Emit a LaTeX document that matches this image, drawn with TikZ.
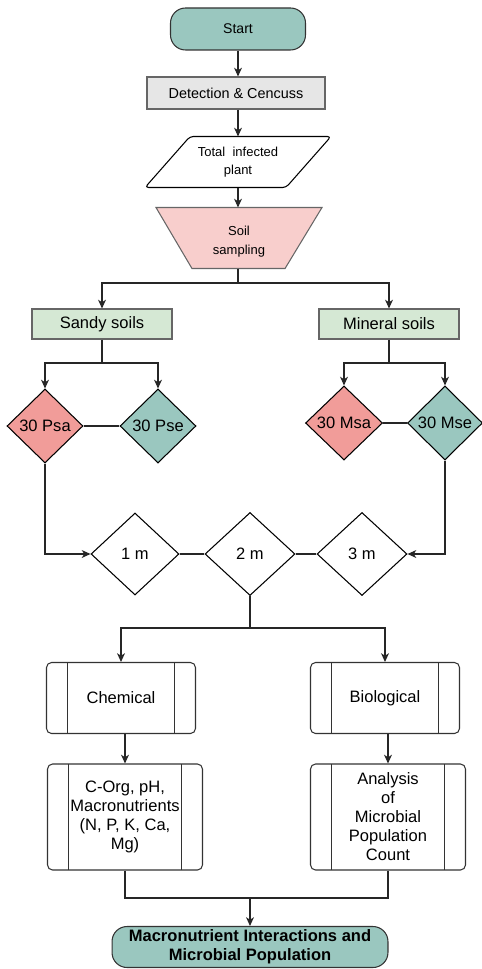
\documentclass[tikz,border=0pt]{standalone}
\usepackage{fontspec}
\setmainfont{Liberation Sans}
\usepackage{tikz}
\usetikzlibrary{shapes.geometric,arrows.meta}

\definecolor{teal1}{HTML}{9AC7BF}
\definecolor{red1}{HTML}{F19C99}
\definecolor{pink1}{HTML}{F8CECC}
\definecolor{green1}{HTML}{D5E8D4}
\definecolor{gray1}{HTML}{E6E6E6}
\definecolor{edge1}{HTML}{666666}

\tikzset{
	base/.style={line width=0.6pt, align=center, inner sep=1pt, font=\fontsize{9.4}{10.8}\selectfont},
	termbox/.style={base, draw=black!80, fill=teal1, rounded corners=0.3cm},
	plainbox/.style={base, draw=edge1, minimum width=2.8cm, minimum height=0.6cm},
	choice/.style={base, diamond, draw=black, inner sep=0pt},
	procbox/.style={base, draw=black!80, rounded corners=0.1cm,
		path picture={
			\draw[line width=0.6pt] ([xshift=0.42cm]path picture bounding box.north west) -- ([xshift=0.42cm]path picture bounding box.south west);
			\draw[line width=0.6pt] ([xshift=-0.42cm]path picture bounding box.north east) -- ([xshift=-0.42cm]path picture bounding box.south east);
		}},
	link/.style={line width=0.6pt, draw=black!85},
	>={Stealth[length=5pt,width=4.5pt,inset=1.5pt]}
}

\begin{document}
\begin{tikzpicture}[x=0.02cm,y=-0.02cm]
	\useasboundingbox (0,0) rectangle (482,969);

	\node[termbox, minimum width=2.7cm, minimum height=0.84cm, font=\fontsize{8}{10}\selectfont] (start) at (238,29) {Start};
	\node[plainbox, fill=gray1, minimum width=3.56cm, minimum height=0.64cm, font=\fontsize{8.2}{10}\selectfont] (detect) at (236,93) {Detection \& Cencuss};

	\node[base, minimum width=3.7cm, minimum height=1cm, font=\fontsize{7.4}{10}\selectfont] (total) at (238,162) {};
	\draw[line width=0.6pt, rounded corners=2pt] ([xshift=0.9cm]total.north west) -- (total.north east) -- ([xshift=-0.9cm]total.south east) -- (total.south west) -- cycle;
	\node[base, font=\fontsize{7.4}{10}\selectfont] at (total) {Total\ \ infected\\plant};

	\node[base, minimum width=3.3cm, minimum height=1.2cm] (soil) at (239,238) {};
	\draw[line width=0.6pt, draw=edge1, fill=pink1] (soil.north west) -- (soil.north east) -- ([xshift=-0.74cm]soil.south east) -- ([xshift=0.72cm]soil.south west) -- cycle;
	\node[base, font=\fontsize{7.4}{11}\selectfont] at ([yshift=-2pt]soil) {Soil\\sampling};

	\node[plainbox, fill=green1] (sandy) at (102,324) {Sandy soils};
	\node[plainbox, fill=green1] (mineral) at (389,324) {Mineral soils};

	\node[choice, fill=red1, minimum width=1.52cm, minimum height=1.48cm] (psa) at (45,426) {30 Psa};
	\node[choice, fill=teal1, minimum width=1.52cm, minimum height=1.48cm] (pse) at (158,426) {30 Pse};
	\node[choice, fill=red1, minimum width=1.54cm, minimum height=1.48cm] (msa) at (344,423) {30 Msa};
	\node[choice, fill=teal1, minimum width=1.5cm, minimum height=1.48cm] (mse) at (445,423) {30 Mse};

	\node[choice, fill=white, minimum width=1.76cm, minimum height=1.64cm] (m1) at (135,554) {1 m};
	\node[choice, fill=white, minimum width=1.8cm, minimum height=1.66cm] (m2) at (250,554) {2 m};
	\node[choice, fill=white, minimum width=1.8cm, minimum height=1.66cm] (m3) at (362,554) {3 m};

	\node[procbox, minimum width=2.98cm, minimum height=1.42cm] (chem) at (121,698) {\raisebox{-5pt}{Chemical}};
	\node[procbox, minimum width=2.98cm, minimum height=1.42cm] (bio) at (385,698) {Biological};
	\node[procbox, minimum width=3.1cm, minimum height=2.12cm] (chemres) at (125,817) {C-Org, pH,\\Macronutrients\\(N, P, K, Ca,\\Mg)};
	\node[procbox, minimum width=3.1cm, minimum height=2.12cm] (biores) at (388,817) {Analysis\\of\\Microbial\\Population\\Count};

	\node[termbox, minimum width=5.52cm, minimum height=0.82cm, font=\bfseries\fontsize{9.4}{10.6}\selectfont] (result) at (250,947) {Macronutrient Interactions and\\Microbial Population};

	\coordinate (j1) at (238,283);
	\coordinate (j2) at (102,363);
	\coordinate (j3) at (389,363);
	\coordinate (j4) at (250,628);
	\coordinate (j5) at (250,898);

	\draw[link,->] (start) -- (detect.north -| start);
	\draw[link,->] (detect.south -| start) -- (total);
	\draw[link,->] (total) -- (soil.north -| total);
	\draw[link] (soil.south -| j1) -- (j1);
	\draw[link,->] (j1) -| (sandy);
	\draw[link,->] (j1) -| (mineral);

	\draw[link] (sandy) -- (j2);
	\draw[link,->] (j2) -| (psa);
	\draw[link,->] (j2) -| (pse);
	\draw[link] (psa) -- (pse);
	\draw[link] (mineral) -- (j3);
	\draw[link,->] (j3) -| (msa);
	\draw[link,->] (j3) -| (mse);
	\draw[link] (msa) -- (mse);

	\draw[link,->] (psa) |- (m1);
	\draw[link,->] (mse) |- (m3);
	\draw[link] (m1) -- (m2);
	\draw[link] (m2) -- (m3);

	\draw[link] (m2) -- (j4);
	\draw[link,->] (j4) -| (chem);
	\draw[link,->] (j4) -| (bio);
	\draw[link,->] (chem.south -| chemres) -- (chemres);
	\draw[link,->] (bio.south -| biores) -- (biores);
	\draw[link] (chemres) |- (j5);
	\draw[link] (biores) |- (j5);
	\draw[link,->] (j5) -- (result);
\end{tikzpicture}
\end{document}
